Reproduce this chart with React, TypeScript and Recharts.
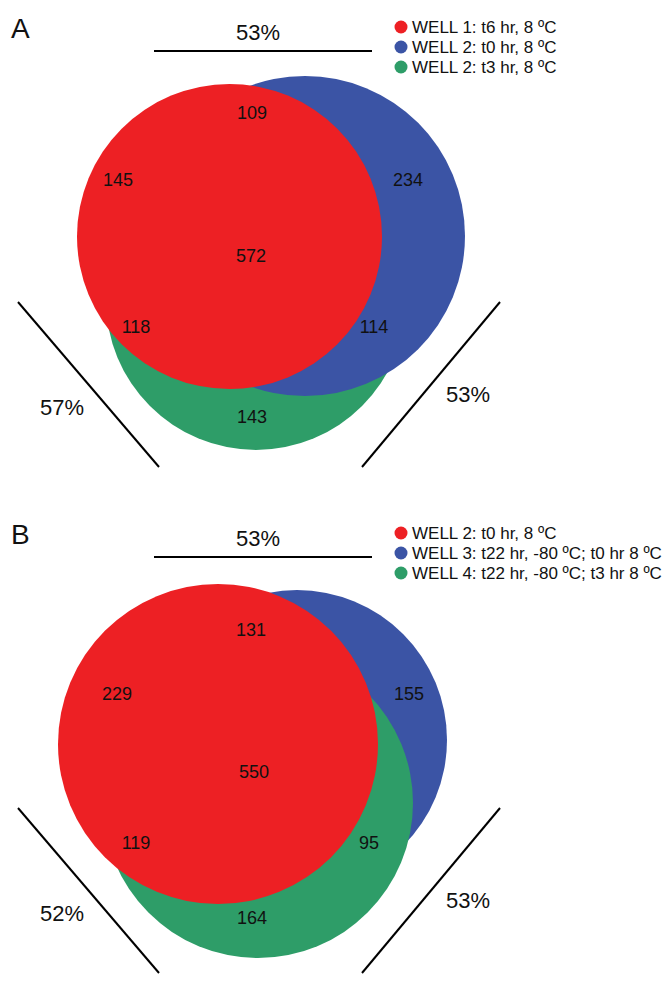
import { ReferenceLine, Scatter, ScatterChart, XAxis, YAxis } from 'recharts'

const W = 665
const H = 989
const X_MAX = 665
const Y_MAX = 989
const PX = W / X_MAX
const FONT = '"Liberation Sans", Arial, Helvetica, sans-serif'

const COLORS = {
  red: '#ed2024',
  blue: '#3b54a5',
  green: '#2e9d68',
  text: '#111111',
}

// panel letters and legends
const PANELS = ['A', 'B']
const LEGEND_A = ['WELL 1: t6 hr, 8 ºC', 'WELL 2: t0 hr, 8 ºC', 'WELL 2: t3 hr, 8 ºC']
const LEGEND_B = [
  'WELL 2: t0 hr, 8 ºC',
  'WELL 3: t22 hr, -80 ºC; t0 hr 8 ºC',
  'WELL 4: t22 hr, -80 ºC; t3 hr 8 ºC',
]

// region counts: red only, blue only, green only, red∩blue, red∩green, blue∩green, all three
const COUNTS_A = [145, 234, 143, 109, 118, 114, 572]
const COUNTS_B = [229, 155, 164, 131, 119, 95, 550]

// pairwise overlap: top (red/blue), left (red/green), right (blue/green)
const PCT_A = ['53%', '57%', '53%']
const PCT_B = ['53%', '52%', '53%']

// layout in chart units
const PANEL_Y = [0, 506]
const CIRCLES_A = {
  red: { x: 229.5, y: 236.5, r: 152.5 },
  blue: { x: 305, y: 236, r: 160 },
  green: { x: 256, y: 300, r: 150 },
}
const CIRCLES_B = {
  red: { x: 218, y: 744, r: 160 },
  blue: { x: 297, y: 740, r: 150 },
  green: { x: 258, y: 803, r: 155 },
}
const SPOTS_A = [
  [118, 180], [408, 180], [252, 417], [252, 113], [136, 327], [374, 327], [251, 256],
]
const SPOTS_B = [
  [117, 694], [409, 694], [252, 918], [251, 630], [136, 843], [369, 843], [254, 772],
]

const circle = (c: { x: number; y: number; r: number }, fill: string) => [{ ...c, fill }]

function CircleShape(props: any) {
  const { cx, cy, payload } = props
  return <circle cx={cx} cy={cy} r={payload.r * PX} fill={payload.fill} />
}

function TextShape(props: any) {
  const { cx, cy, payload } = props
  return (
    <text
      x={cx}
      y={cy}
      textAnchor={payload.anchor ?? 'middle'}
      dominantBaseline="central"
      fontSize={payload.size}
      fontFamily={FONT}
      fill={COLORS.text}
    >
      {payload.label}
    </text>
  )
}

function LegendShape(props: any) {
  const { cx, cy, payload } = props
  return (
    <g>
      <circle cx={cx} cy={cy} r={6.5} fill={payload.fill} />
      <text
        x={cx + 11}
        y={cy}
        dominantBaseline="central"
        fontSize={17}
        fontFamily={FONT}
        fill={COLORS.text}
      >
        {payload.label}
      </text>
    </g>
  )
}

export default function App() {
  const legendColors = [COLORS.red, COLORS.blue, COLORS.green]
  const countLabels = [
    ...COUNTS_A.map((v, i) => ({ x: SPOTS_A[i][0], y: SPOTS_A[i][1], label: String(v), size: 18 })),
    ...COUNTS_B.map((v, i) => ({ x: SPOTS_B[i][0], y: SPOTS_B[i][1], label: String(v), size: 18 })),
  ]
  const pctLabels = [PCT_A, PCT_B].flatMap((p, k) => [
    { x: 258, y: PANEL_Y[k] + 32, label: p[0], size: 22 },
    { x: 62, y: PANEL_Y[k] + 407, label: p[1], size: 22 },
    { x: 468, y: PANEL_Y[k] + 394, label: p[2], size: 22 },
  ])
  const letters = PANELS.map((l, k) => ({ x: 11, y: PANEL_Y[k] + 28, label: l, size: 28, anchor: 'start' }))
  const legend = [LEGEND_A, LEGEND_B].flatMap((items, k) =>
    items.map((label, i) => ({ x: 401, y: PANEL_Y[k] + 27 + i * 20, label, fill: legendColors[i] })),
  )

  return (
    <div style={{ position: 'absolute', left: 0, top: 0, width: W, height: H, background: '#fff' }}>
      <ScatterChart width={W} height={H} margin={{ top: 0, right: 0, bottom: 0, left: 0 }}>
        <XAxis type="number" dataKey="x" domain={[0, X_MAX]} hide />
        <YAxis type="number" dataKey="y" domain={[0, Y_MAX]} reversed hide />

        {/* panel A: green under blue under red */}
        <Scatter data={circle(CIRCLES_A.green, COLORS.green)} shape={CircleShape} isAnimationActive={false} />
        <Scatter data={circle(CIRCLES_A.blue, COLORS.blue)} shape={CircleShape} isAnimationActive={false} />
        <Scatter data={circle(CIRCLES_A.red, COLORS.red)} shape={CircleShape} isAnimationActive={false} />

        {/* panel B: blue under green under red */}
        <Scatter data={circle(CIRCLES_B.blue, COLORS.blue)} shape={CircleShape} isAnimationActive={false} />
        <Scatter data={circle(CIRCLES_B.green, COLORS.green)} shape={CircleShape} isAnimationActive={false} />
        <Scatter data={circle(CIRCLES_B.red, COLORS.red)} shape={CircleShape} isAnimationActive={false} />

        {PANEL_Y.map((py) => [
          <ReferenceLine
            key={`t${py}`}
            segment={[{ x: 154, y: py + 51 }, { x: 372, y: py + 51 }]}
            stroke="#000"
            strokeWidth={2}
            ifOverflow="visible"
          />,
          <ReferenceLine
            key={`l${py}`}
            segment={[{ x: 18, y: py + 302 }, { x: 159, y: py + 467 }]}
            stroke="#000"
            strokeWidth={2}
            ifOverflow="visible"
          />,
          <ReferenceLine
            key={`r${py}`}
            segment={[{ x: 500, y: py + 302 }, { x: 362, y: py + 467 }]}
            stroke="#000"
            strokeWidth={2}
            ifOverflow="visible"
          />,
        ])}

        <Scatter data={countLabels} shape={TextShape} isAnimationActive={false} />
        <Scatter data={pctLabels} shape={TextShape} isAnimationActive={false} />
        <Scatter data={letters} shape={TextShape} isAnimationActive={false} />
        <Scatter data={legend} shape={LegendShape} isAnimationActive={false} />
      </ScatterChart>
    </div>
  )
}
